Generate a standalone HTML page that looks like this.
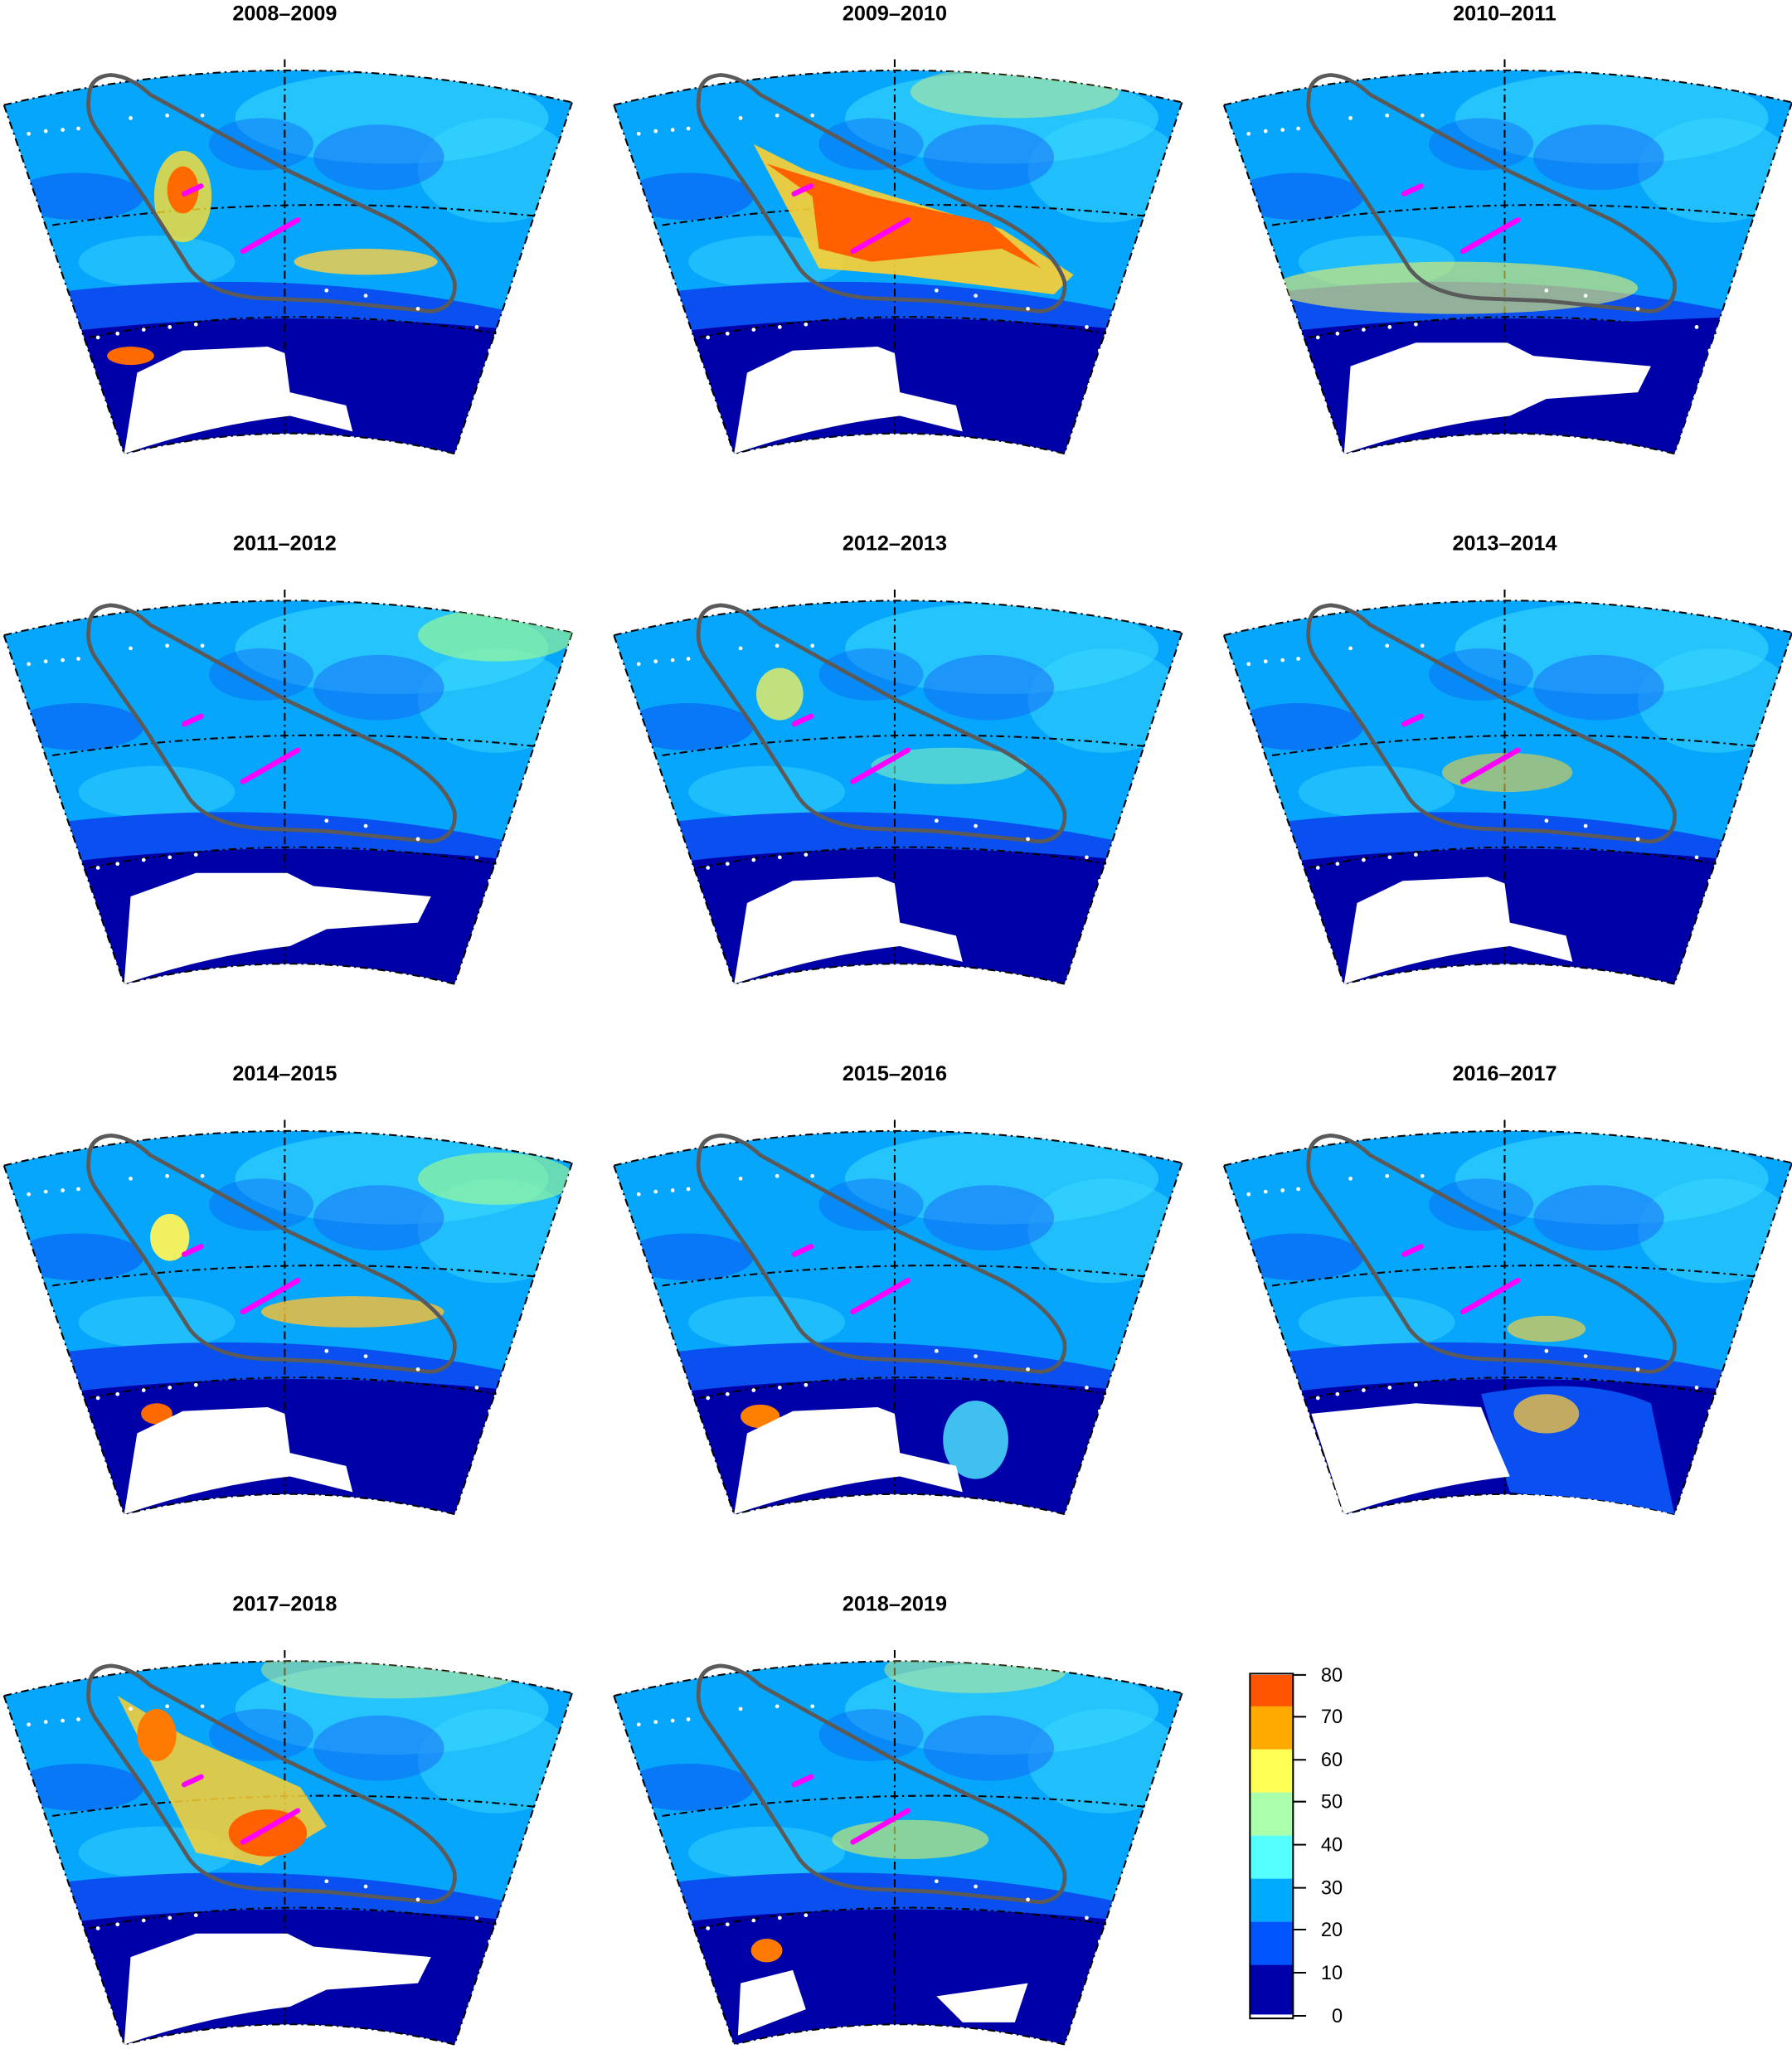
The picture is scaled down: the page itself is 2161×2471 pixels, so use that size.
<!DOCTYPE html>
<html><head><meta charset="utf-8"><style>html,body{margin:0;padding:0;background:#fff}svg{display:block}</style></head><body>
<svg width="2161" height="2471" viewBox="0 0 1372 1568" xmlns="http://www.w3.org/2000/svg" font-family="Liberation Sans, sans-serif">
<defs>
<clipPath id="fan"><path d="M3,80 Q218,28 438,78 L348,347 Q222,316 95,347 Z"/></clipPath>
<g id="base">
 <g clip-path="url(#fan)">
  <rect x="0" y="30" width="440" height="330" fill="#05a6fb"/>
  <ellipse cx="300" cy="90" rx="120" ry="35" fill="#3bd8fd" opacity="0.6"/>
  <ellipse cx="380" cy="130" rx="60" ry="40" fill="#3bd8fd" opacity="0.5"/>
  <ellipse cx="290" cy="120" rx="50" ry="25" fill="#1565f5" opacity="0.5"/>
  <ellipse cx="60" cy="150" rx="50" ry="18" fill="#0a5af5" opacity="0.6"/>
  <ellipse cx="200" cy="110" rx="40" ry="20" fill="#0a60f5" opacity="0.4"/>
  <ellipse cx="120" cy="200" rx="60" ry="20" fill="#39d4fb" opacity="0.5"/>
  <path d="M30,225 Q220,200 400,240 L400,275 Q220,240 30,262 Z" fill="#0a50f0"/>
  <path d="M40,255 Q220,232 420,255 L348,350 Q222,318 95,350 Z" fill="#0000a8"/>
 </g>
 <path d="M3,80 Q218,28 438,78 M348,347 Q222,316 95,347 M3,80 L95,347 M438,78 L348,347 M40,172 Q218,145 410,165 M68,258 Q218,228 380,255 M218,45 L218,332" fill="none" stroke="#000" stroke-width="1.3" stroke-dasharray="6,3,1.5,3"/>
</g>
<g id="cont">
 <path d="M68,75 Q68,58 85,57 Q100,58 115,72 L220,130 L300,168 Q340,190 348,215 Q350,235 330,238 L250,230 L200,228 Q160,225 145,205 L110,150 L75,100 Q66,88 68,75 Z" fill="none" stroke="#5a5a5a" stroke-width="3"/>
 <path d="M141,148 L154,142" stroke="#ff00ff" stroke-width="4" stroke-linecap="round"/>
 <path d="M186,192 L228,168" stroke="#ff00ff" stroke-width="4" stroke-linecap="round"/>
 <g fill="#fff">
  <circle cx="10" cy="104" r="1.5"/><circle cx="22" cy="102" r="1.5"/><circle cx="35" cy="100" r="1.5"/><circle cx="48" cy="99" r="1.5"/><circle cx="60" cy="98" r="1.5"/>
  <circle cx="100" cy="90" r="1.5"/><circle cx="128" cy="88" r="1.5"/><circle cx="155" cy="88" r="1.5"/>
  <circle cx="60" cy="262" r="1.5"/><circle cx="75" cy="258" r="1.5"/><circle cx="90" cy="255" r="1.5"/><circle cx="110" cy="252" r="1.5"/><circle cx="130" cy="250" r="1.5"/><circle cx="150" cy="248" r="1.5"/>
  <circle cx="250" cy="222" r="1.5"/><circle cx="280" cy="226" r="1.5"/><circle cx="320" cy="236" r="1.5"/><circle cx="365" cy="250" r="1.5"/><circle cx="375" cy="268" r="1.5"/>
 </g>
</g>
<g id="ant"><path d="M105,285 L140,268 L205,265 L218,270 L222,300 L265,310 L270,330 L222,318 Q160,325 95,347 Z" fill="#fff"/></g>
<g id="ant2"><path d="M100,280 L150,262 L220,262 L240,272 L330,280 L320,300 L250,305 L222,318 Q160,325 95,347 Z" fill="#fff"/></g>
</defs>

<g font-size="16" font-weight="bold" text-anchor="middle">
<text x="218" y="15">2008–2009</text><text x="685" y="15">2009–2010</text><text x="1152" y="15">2010–2011</text>
<text x="218" y="421">2011–2012</text><text x="685" y="421">2012–2013</text><text x="1152" y="421">2013–2014</text>
<text x="218" y="827">2014–2015</text><text x="685" y="827">2015–2016</text><text x="1152" y="827">2016–2017</text>
<text x="218" y="1233">2017–2018</text><text x="685" y="1233">2018–2019</text>
</g>

<g transform="translate(0,0)"><use href="#base"/>
 <g clip-path="url(#fan)"><ellipse cx="140" cy="150" rx="22" ry="35" fill="#ffe030" opacity="0.8"/><ellipse cx="140" cy="145" rx="12" ry="18" fill="#ff6a00"/><ellipse cx="280" cy="200" rx="55" ry="10" fill="#ffd040" opacity="0.8"/><ellipse cx="100" cy="272" rx="18" ry="7" fill="#ff6a00"/></g>
 <use href="#ant"/><use href="#cont"/></g>
<g transform="translate(467,0)"><use href="#base"/>
 <g clip-path="url(#fan)"><ellipse cx="310" cy="70" rx="80" ry="20" fill="#ffff66" opacity="0.4"/><path d="M110,110 L150,130 L300,175 L355,210 L340,225 L220,210 L160,205 Z" fill="#ffd030" opacity="0.9"/><path d="M120,125 L155,150 L160,190 L200,200 L300,190 L330,205 L290,170 L200,150 Z" fill="#ff6000"/></g>
 <use href="#ant"/><use href="#cont"/></g>
<g transform="translate(934,0)"><use href="#base"/>
 <g clip-path="url(#fan)"><ellipse cx="180" cy="220" rx="140" ry="20" fill="#eef060" opacity="0.6"/><path d="M220,250 L440,240 L348,347 Z" fill="#0000a8"/></g>
 <use href="#ant2"/><use href="#cont"/></g>
<g transform="translate(0,406)"><use href="#base"/>
 <g clip-path="url(#fan)"><ellipse cx="380" cy="80" rx="60" ry="20" fill="#aaff88" opacity="0.6"/></g>
 <use href="#ant2"/><use href="#cont"/></g>
<g transform="translate(467,406)"><use href="#base"/>
 <g clip-path="url(#fan)"><ellipse cx="130" cy="125" rx="18" ry="20" fill="#f0f060" opacity="0.8"/><ellipse cx="260" cy="180" rx="60" ry="14" fill="#7ff0c0" opacity="0.6"/></g>
 <use href="#ant"/><use href="#cont"/></g>
<g transform="translate(934,406)"><use href="#base"/>
 <g clip-path="url(#fan)"><ellipse cx="220" cy="185" rx="50" ry="15" fill="#f0d040" opacity="0.6"/><ellipse cx="290" cy="20" rx="20" ry="20" fill="#ffd040"/></g>
 <use href="#ant"/><use href="#cont"/></g>
<g transform="translate(0,812)"><use href="#base"/>
 <g clip-path="url(#fan)"><ellipse cx="270" cy="192" rx="70" ry="12" fill="#ffc030" opacity="0.8"/><ellipse cx="130" cy="135" rx="15" ry="18" fill="#f0f060"/><ellipse cx="120" cy="270" rx="12" ry="8" fill="#ff6a00"/><ellipse cx="380" cy="90" rx="60" ry="20" fill="#aaff88" opacity="0.6"/></g>
 <use href="#ant"/><use href="#cont"/></g>
<g transform="translate(467,812)"><use href="#base"/>
 <g clip-path="url(#fan)"><ellipse cx="115" cy="272" rx="15" ry="9" fill="#ff8000"/><ellipse cx="280" cy="290" rx="25" ry="30" fill="#40c0f0"/></g>
 <use href="#ant"/><use href="#cont"/></g>
<g transform="translate(934,812)"><use href="#base"/>
 <g clip-path="url(#fan)"><path d="M200,255 Q280,240 330,262 L348,347 L222,330 Z" fill="#0a50f0"/><ellipse cx="250" cy="270" rx="25" ry="15" fill="#f0c040" opacity="0.8"/><ellipse cx="250" cy="205" rx="30" ry="10" fill="#f0d040" opacity="0.7"/></g>
 <path d="M70,270 L150,262 L200,265 L210,290 L222,318 Q160,325 95,347 Z" fill="#fff"/><use href="#cont"/></g>
<g transform="translate(0,1218)"><use href="#base"/>
 <g clip-path="url(#fan)"><ellipse cx="300" cy="60" rx="100" ry="22" fill="#ffff66" opacity="0.4"/><path d="M90,80 L140,110 L230,150 L250,180 L200,210 L150,200 L120,140 Z" fill="#ffd030" opacity="0.85"/><ellipse cx="205" cy="185" rx="30" ry="18" fill="#ff6000"/><ellipse cx="120" cy="110" rx="15" ry="20" fill="#ff7a00"/></g>
 <use href="#ant2"/><use href="#cont"/></g>
<g transform="translate(467,1218)"><use href="#base"/>
 <g clip-path="url(#fan)"><ellipse cx="280" cy="60" rx="70" ry="18" fill="#ffff66" opacity="0.4"/><ellipse cx="230" cy="190" rx="60" ry="15" fill="#e0f060" opacity="0.6"/><ellipse cx="120" cy="275" rx="12" ry="9" fill="#ff7a00"/></g>
 <path d="M100,300 L140,290 L150,320 L98,340 Z" fill="#fff"/><path d="M250,310 L320,300 L310,330 L270,330 Z" fill="#fff"/><use href="#cont"/></g>

<g>
 <rect x="957" y="1282" width="33" height="24.5" fill="#ff5500"/>
 <rect x="957" y="1306" width="33" height="33" fill="#ffaa00"/>
 <rect x="957" y="1339" width="33" height="33" fill="#ffff55"/>
 <rect x="957" y="1372" width="33" height="33" fill="#aaffaa"/>
 <rect x="957" y="1405" width="33" height="33" fill="#55ffff"/>
 <rect x="957" y="1438" width="33" height="33" fill="#00aaff"/>
 <rect x="957" y="1471" width="33" height="33" fill="#0055ff"/>
 <rect x="957" y="1504" width="33" height="38" fill="#0000aa"/>
 <rect x="957" y="1281" width="33" height="264" fill="none" stroke="#000" stroke-width="1.3"/>
 <g stroke="#000" stroke-width="1.3"><line x1="990" y1="1282" x2="1000" y2="1282"/><line x1="990" y1="1314" x2="1000" y2="1314"/><line x1="990" y1="1347" x2="1000" y2="1347"/><line x1="990" y1="1379" x2="1000" y2="1379"/><line x1="990" y1="1412" x2="1000" y2="1412"/><line x1="990" y1="1445" x2="1000" y2="1445"/><line x1="990" y1="1477" x2="1000" y2="1477"/><line x1="990" y1="1510" x2="1000" y2="1510"/><line x1="990" y1="1543" x2="1000" y2="1543"/></g>
 <g font-size="15" text-anchor="end"><text x="1028" y="1287">80</text><text x="1028" y="1319">70</text><text x="1028" y="1352">60</text><text x="1028" y="1384">50</text><text x="1028" y="1417">40</text><text x="1028" y="1450">30</text><text x="1028" y="1482">20</text><text x="1028" y="1515">10</text><text x="1028" y="1548">0</text></g>
</g>
</svg>
</body></html>
